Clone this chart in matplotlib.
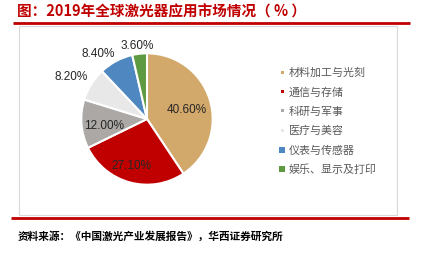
import numpy as np
import matplotlib
matplotlib.use("Agg")
from matplotlib import pyplot as plt
from matplotlib.patches import Rectangle

plt.rcParams['font.family'] = ['Noto Sans CJK SC', 'DejaVu Sans']

categories = ["材料加工与光刻", "通信与存储", "科研与军事", "医疗与美容", "仪表与传感器", "娱乐、显示及打印"]
shares = [40.6, 27.1, 12.0, 8.2, 8.4, 3.6]
colors = ["#D2A86B", "#C00000", "#ABA8A6", "#E8E8E8", "#4F87C0", "#5E9A42"]
label_dist = [0.62, 0.74, 0.66, 1.32, 1.25, 1.14]
label_shift = [-2, -3, 3, 2.5, 8.5, 0.7]   # degrees, nudges labels like the source
marker_size = [3, 3, 3, 3, 6, 6]

W, H = 421, 255
fig = plt.figure(figsize=(W / 100, H / 100), dpi=100)

# frame layer in pixel coordinates
bg = fig.add_axes([0, 0, 1, 1])
bg.set_xlim(0, W)
bg.set_ylim(H, 0)
bg.axis("off")
bg.text(17, 11, "图：2019年全球激光器应用市场情况（ % ）", color="#C00000",
        fontsize=10.5, fontweight="bold", va="center", ha="left")
bg.plot([13, 410], [24, 24], color="#C00000", lw=2, solid_capstyle="butt")
bg.add_patch(Rectangle((19, 27), 378, 189, fill=False, ec="#D9D9D9", lw=0.8))
bg.plot([11, 409], [219, 219], color="#C00000", lw=2, solid_capstyle="butt")
bg.text(18, 237, "资料来源：《中国激光产业发展报告》，华西证券研究所", color="black",
        fontsize=7.7, fontweight="bold", va="center", ha="left")

# legend
for i, (cat, col) in enumerate(zip(categories, colors)):
    y = 73 + i * 19.4
    s = marker_size[i]
    bg.add_patch(Rectangle((282 - s / 2, y - s / 2), s, s, color=col, lw=0))
    bg.text(289, y, cat, color="#595959", fontsize=7.9, va="center", ha="left")

# pie
cx, cy, r = 147, 120, 67
ax = fig.add_axes([(cx - r) / W, (H - cy - r) / H, 2 * r / W, 2 * r / H])
wedges, _ = ax.pie(shares, colors=colors, startangle=90, counterclock=False,
                   radius=1, wedgeprops=dict(edgecolor="white", linewidth=1.5))
for w, v, d, sh in zip(wedges, shares, label_dist, label_shift):
    ang = np.deg2rad((w.theta1 + w.theta2) / 2 + sh)
    ax.text(d * np.cos(ang), d * np.sin(ang), f"{v:.2f}%", ha="center", va="center",
            fontsize=8.5, family="Liberation Sans", color="#262626")
ax.set_xlim(-1.02, 1.02)
ax.set_ylim(-1.02, 1.02)
ax.set_aspect("equal")
ax.axis("off")

fig.savefig("out.png", dpi=100)
